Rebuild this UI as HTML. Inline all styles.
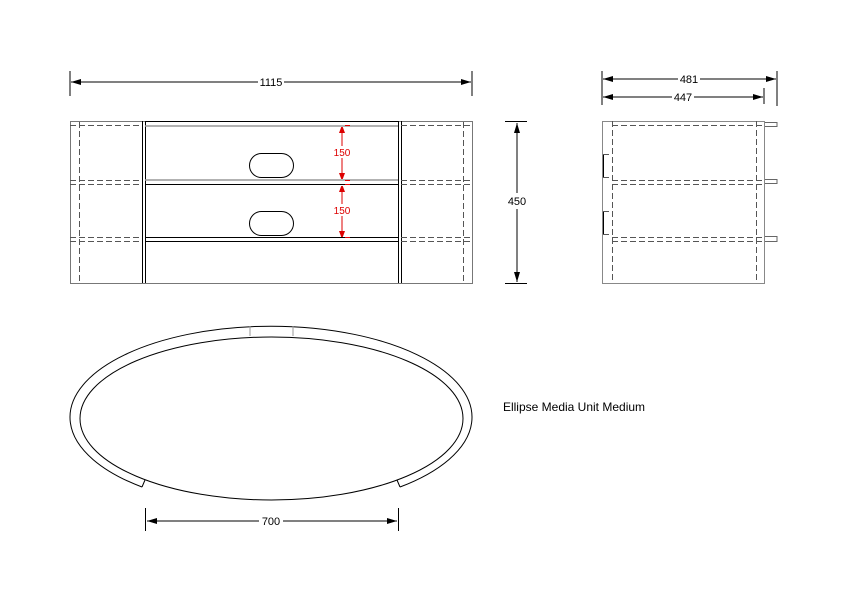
<!DOCTYPE html>
<html><head><style>body{margin:0;background:#fff}svg{display:block}</style></head><body>
<svg width="846" height="597" viewBox="0 0 846 597" xmlns="http://www.w3.org/2000/svg" font-family="Liberation Sans, sans-serif">
<defs>
<marker id="a" markerWidth="10" markerHeight="6" refX="10" refY="3" orient="auto-start-reverse" markerUnits="userSpaceOnUse"><path d="M0,0L10,3L0,6z" fill="#000"/></marker>
<marker id="r" markerWidth="6" markerHeight="10" refX="6" refY="3" orient="auto-start-reverse" markerUnits="userSpaceOnUse"><path d="M0,0L8,3L0,6z" fill="#d00"/></marker>
</defs>
<g stroke="#000" stroke-width="1" fill="none">
<line x1="70" y1="71" x2="70" y2="96"/><line x1="472" y1="71" x2="472" y2="96"/>
<line x1="71" y1="82" x2="471" y2="82" marker-start="url(#a)" marker-end="url(#a)"/>
<rect x="70.5" y="121.5" width="402" height="162" stroke="#777"/>
<line x1="142.5" y1="121" x2="142.5" y2="283"/><line x1="145.5" y1="121" x2="145.5" y2="283"/>
<line x1="398.5" y1="121" x2="398.5" y2="283"/><line x1="401.5" y1="121" x2="401.5" y2="283"/>
<line x1="145" y1="121.5" x2="398" y2="121.5"/>
<line x1="145" y1="126" x2="398" y2="126" stroke="#999" stroke-width="1.5"/>
<line x1="145" y1="180" x2="398" y2="180" stroke="#999" stroke-width="1.5"/>
<line x1="145" y1="184.5" x2="398" y2="184.5"/>
<line x1="145" y1="237.5" x2="398" y2="237.5"/>
<line x1="145" y1="241.5" x2="398" y2="241.5"/>
<g stroke-dasharray="6,3" stroke="#555">
<line x1="79.5" y1="122" x2="79.5" y2="283"/><line x1="463.5" y1="122" x2="463.5" y2="283"/>
<line x1="70" y1="125.5" x2="142" y2="125.5"/><line x1="401" y1="125.5" x2="472" y2="125.5"/>
<line x1="70" y1="180.5" x2="142" y2="180.5"/><line x1="401" y1="180.5" x2="472" y2="180.5"/>
<line x1="70" y1="184.5" x2="142" y2="184.5"/><line x1="401" y1="184.5" x2="472" y2="184.5"/>
<line x1="70" y1="237.5" x2="142" y2="237.5"/><line x1="401" y1="237.5" x2="472" y2="237.5"/>
<line x1="70" y1="241.5" x2="142" y2="241.5"/><line x1="401" y1="241.5" x2="472" y2="241.5"/>
</g>
<rect x="249.5" y="153.5" width="44" height="24" rx="12"/>
<rect x="249.5" y="211.5" width="44" height="24" rx="12"/>
<g stroke="#d00">
<line x1="342" y1="127" x2="342" y2="179" marker-start="url(#r)" marker-end="url(#r)"/>
<line x1="342" y1="186" x2="342" y2="237" marker-start="url(#r)" marker-end="url(#r)"/>
<line x1="345" y1="125.5" x2="350" y2="125.5"/><line x1="345" y1="180.5" x2="350" y2="180.5"/><line x1="345" y1="184.5" x2="350" y2="184.5"/><line x1="345" y1="237.5" x2="350" y2="237.5"/>
</g>
<line x1="505" y1="121.5" x2="527" y2="121.5"/><line x1="505" y1="283.5" x2="527" y2="283.5"/>
<line x1="517" y1="123" x2="517" y2="193" marker-start="url(#a)"/>
<line x1="517" y1="209" x2="517" y2="282" marker-end="url(#a)"/>
<line x1="602" y1="71" x2="602" y2="105"/><line x1="777" y1="71" x2="777" y2="106"/><line x1="764" y1="88" x2="764" y2="104"/>
<line x1="603" y1="79" x2="776" y2="79" marker-start="url(#a)" marker-end="url(#a)"/>
<line x1="603" y1="97" x2="763" y2="97" marker-start="url(#a)" marker-end="url(#a)"/>
<rect x="602.5" y="121.5" width="162" height="162" stroke="#888"/>
<g stroke-dasharray="6,3" stroke="#555">
<line x1="612.5" y1="121" x2="612.5" y2="283"/><line x1="756.5" y1="121" x2="756.5" y2="283"/>
<line x1="612" y1="125.5" x2="764" y2="125.5"/><line x1="612" y1="180.5" x2="764" y2="180.5"/><line x1="612" y1="184.5" x2="764" y2="184.5"/><line x1="612" y1="237.5" x2="764" y2="237.5"/><line x1="612" y1="241.5" x2="764" y2="241.5"/>
<line x1="603" y1="154.5" x2="612" y2="154.5"/><line x1="603" y1="177.5" x2="612" y2="177.5"/><line x1="603" y1="211.5" x2="612" y2="211.5"/><line x1="603" y1="234.5" x2="612" y2="234.5"/>
</g>
<line x1="603.5" y1="155" x2="603.5" y2="177"/><line x1="603.5" y1="212" x2="603.5" y2="234"/>
<path d="M765 122.5H777V126.5H765M765 179.5H777V183.5H765M765 236.5H777V241.5H765" stroke="#666"/>
<path d="M142 487 A201 91 0 1 1 400 487"/>
<path d="M142 487 L145 480 M400 487 L397 480"/>
<ellipse cx="271.5" cy="418.5" rx="191.5" ry="81.5"/>
<line x1="250" y1="326" x2="250" y2="336" stroke="#999"/><line x1="293" y1="326" x2="293" y2="336" stroke="#999"/>
<line x1="145.5" y1="508" x2="145.5" y2="531"/><line x1="398.5" y1="508" x2="398.5" y2="531"/>
<line x1="147" y1="521" x2="397" y2="521" marker-start="url(#a)" marker-end="url(#a)"/>
</g>
<g font-size="11" fill="#000" text-anchor="middle">
<rect x="258" y="76" width="26" height="11" fill="#fff"/><text x="271" y="86">1115</text>
<text x="517" y="205">450</text>
<rect x="678" y="73" width="22" height="11" fill="#fff"/><text x="689" y="83">481</text>
<rect x="672" y="91" width="22" height="11" fill="#fff"/><text x="683" y="101">447</text>
<rect x="259" y="515" width="24" height="11" fill="#fff"/><text x="271" y="525">700</text>
<text x="574" y="411" text-anchor="middle" font-size="12">Ellipse Media Unit Medium</text>
</g>
<g font-size="10" fill="#d00" text-anchor="middle">
<rect x="332" y="146" width="20" height="12" fill="#fff"/><text x="342" y="156">150</text>
<rect x="332" y="204" width="20" height="12" fill="#fff"/><text x="342" y="214">150</text>
</g>
</svg>
</body></html>
